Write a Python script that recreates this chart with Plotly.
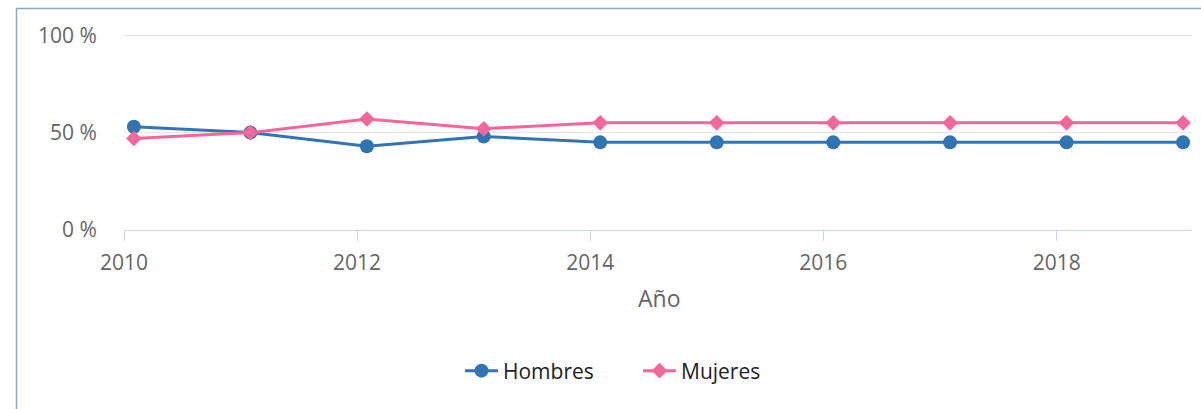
import plotly.graph_objects as go

# Share of each group per year (%)
years = ["2010-02-01", "2011-02-01", "2012-02-01", "2013-02-01", "2014-02-01",
         "2015-02-01", "2016-02-01", "2017-02-01", "2018-02-01", "2019-02-01"]
hombres = [53, 50, 43, 48, 45, 45, 45, 45, 45, 45]
mujeres = [47, 50, 57, 52, 55, 55, 55, 55, 55, 55]

y_ticks = [0, 50, 100]
y_tick_text = ["0 %", "50 %", "100 %"]
x_ticks = ["2010-01-01", "2012-01-01", "2014-01-01", "2016-01-01", "2018-01-01"]
x_tick_text = ["2010", "2012", "2014", "2016", "2018"]

FONT = "Open Sans"
W, H = 1201, 409
L, R, T, B = 124, 9, 34, 179
pw, ph = W - L - R, H - T - B

fig = go.Figure()
fig.add_trace(go.Scatter(
    x=years, y=hombres, name="Hombres", mode="lines+markers",
    line=dict(color="#2f75b5", width=3),
    marker=dict(symbol="circle", size=14, color="#2f75b5"),
))
fig.add_trace(go.Scatter(
    x=years, y=mujeres, name="Mujeres", mode="lines+markers",
    line=dict(color="#f7669a", width=3),
    marker=dict(symbol="diamond", size=12, color="#f7669a"),
))

# frame around the chart
fig.add_shape(
    type="rect", xref="paper", yref="paper",
    x0=(16.5 - L) / pw, x1=(W + 20 - L) / pw,
    y0=-(H + 20 - T - ph) / ph, y1=(T + ph - 8.5) / ph,
    line=dict(color="#8ea6c4", width=1.5), layer="below",
)

fig.add_annotation(
    text="Año", xref="paper", yref="paper", x=(659 - L) / pw,
    y=-(298 - T - ph) / ph,
    showarrow=False, yanchor="middle",
    font=dict(family=FONT, size=23, color="#666666"),
)

fig.update_layout(
    width=W, height=H,
    margin=dict(l=L, r=R, t=T, b=B),
    paper_bgcolor="white", plot_bgcolor="white",
    showlegend=True,
    legend=dict(
        orientation="h", x=(638 - L) / pw, xanchor="center",
        y=-(371 - T - ph) / ph, yanchor="middle",
        font=dict(family=FONT, size=21, color="#222222"),
        itemwidth=33, entrywidth=130, entrywidthmode="pixels",
    ),
    xaxis=dict(
        type="date",
        range=["2010-01-01", "2019-03-01"],
        tickvals=x_ticks, ticktext=x_tick_text,
        showgrid=False, zeroline=False,
        showline=True, linecolor="#ccd6eb", linewidth=1,
        ticks="outside", ticklen=10, tickcolor="#ccd6eb", tickwidth=1,
        ticklabelstandoff=4,
        tickfont=dict(family=FONT, size=21, color="#666666"),
    ),
    yaxis=dict(
        range=[0, 100.6],
        tickvals=y_ticks, ticktext=y_tick_text,
        showgrid=True, gridcolor="#e6e6e6", gridwidth=1,
        zeroline=False, showline=False,
        ticks="outside", ticklen=22, tickcolor="rgba(0,0,0,0)",
        tickfont=dict(family=FONT, size=21, color="#666666"),
    ),
)

fig.write_html("out.html")
